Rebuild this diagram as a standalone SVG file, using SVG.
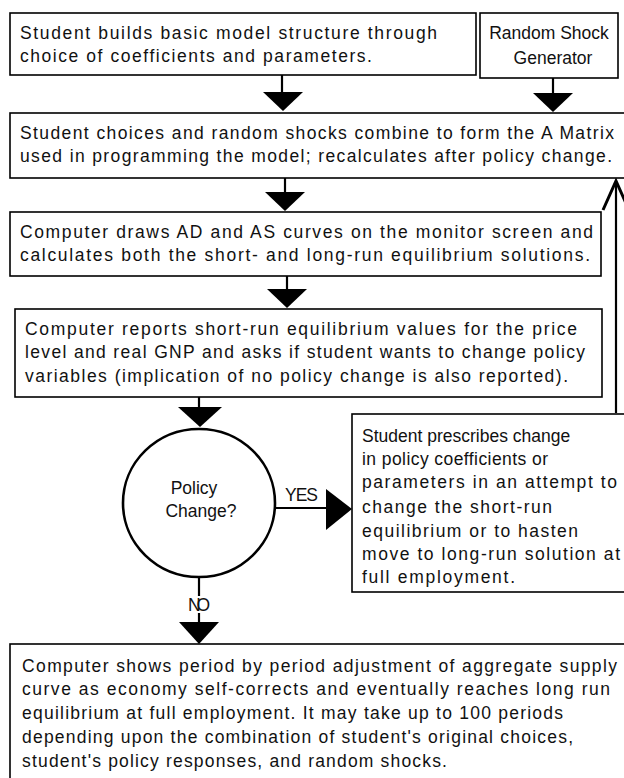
<svg xmlns="http://www.w3.org/2000/svg" width="624" height="778" viewBox="0 0 624 778">
<style>
.box{fill:#fff;stroke:#000;stroke-width:1.6}
.t{font-family:"Liberation Sans",Arial,sans-serif;font-size:17.5px;fill:#111}
.ln{stroke:#000;stroke-width:2.2;fill:none}
.hd{fill:#000}
</style>
<rect width="624" height="778" fill="#fff"/>
<g id="connectors">
<line class="ln" x1="282" y1="75" x2="282" y2="94"/><polygon class="hd" points="263,92 303,92 283,111"/>
<line class="ln" x1="553" y1="78" x2="553" y2="94"/><polygon class="hd" points="533,93 573,93 553,112"/>
<line class="ln" x1="285" y1="178" x2="285" y2="194"/><polygon class="hd" points="265,192 305,192 285,211"/>
<line class="ln" x1="287" y1="276" x2="287" y2="291"/><polygon class="hd" points="267,289 307,289 287,308"/>
<line class="ln" x1="199" y1="397" x2="199" y2="410"/><polygon class="hd" points="178,407 222,407 200,427"/>
<line class="ln" x1="275" y1="508" x2="328" y2="508"/><polygon class="hd" points="326,489 326,530 352,509"/>
<line class="ln" x1="199" y1="577" x2="199" y2="596"/>
<line class="ln" x1="199" y1="613" x2="199" y2="625"/><polygon class="hd" points="179,622 219,622 199,644"/>
<polyline class="ln" points="616,413 616,182"/>
<polyline class="ln" style="stroke-width:3" points="603,210 616,181 629,210"/>
</g>
<g id="n1"><rect class="box" x="10" y="13" width="466" height="62"/>
<text class="t" x="20" y="39" textLength="417">Student builds basic model structure through</text>
<text class="t" x="20" y="62" textLength="352">choice of coefficients and parameters.</text></g>
<g id="n2"><rect class="box" x="480" y="13" width="138" height="65"/>
<text class="t" x="549" y="39" text-anchor="middle" font-size="16">Random Shock</text>
<text class="t" x="553" y="64" text-anchor="middle" font-size="16">Generator</text></g>
<g id="n3"><rect class="box" x="10" y="113" width="620" height="65"/>
<text class="t" x="20" y="139" textLength="594">Student choices and random shocks combine to form the A Matrix</text>
<text class="t" x="20" y="162" textLength="592">used in programming the model; recalculates after policy change.</text></g>
<g id="n4"><rect class="box" x="10" y="212" width="591" height="64"/>
<text class="t" x="20" y="238" textLength="573">Computer draws AD and AS curves on the monitor screen and</text>
<text class="t" x="20" y="261" textLength="570">calculates both the short- and long-run equilibrium solutions.</text></g>
<g id="n5"><rect class="box" x="15" y="309" width="587" height="88"/>
<text class="t" x="25" y="335" textLength="552">Computer reports short-run equilibrium values for the price</text>
<text class="t" x="25" y="358" textLength="560">level and real GNP and asks if student wants to change policy</text>
<text class="t" x="25" y="382" textLength="543">variables (implication of no policy change is also reported).</text></g>
<g id="n6"><ellipse cx="199" cy="503" rx="76" ry="74" fill="#fff" stroke="#000" stroke-width="2.6"/>
<text class="t" x="194" y="494" text-anchor="middle" font-size="16">Policy</text>
<text class="t" x="201" y="517" text-anchor="middle" font-size="16">Change?</text></g>
<text class="t" x="285" y="501" textLength="33" font-size="15">YES</text>
<text class="t" x="188" y="611" textLength="22" font-size="13">NO</text>
<g id="n7"><rect class="box" x="352" y="414" width="280" height="178"/>
<text class="t" x="362" y="442">Student prescribes change</text>
<text class="t" x="362" y="465" textLength="186">in policy coefficients or</text>
<text class="t" x="362" y="488" textLength="255">parameters in an attempt to</text>
<text class="t" x="362" y="513" textLength="190">change the short-run</text>
<text class="t" x="362" y="537" textLength="216">equilibrium or to hasten</text>
<text class="t" x="362" y="560" textLength="258">move to long-run solution at</text>
<text class="t" x="362" y="583" textLength="153">full employment.</text></g>
<g id="n8"><rect class="box" x="10" y="644" width="622" height="140"/>
<text class="t" x="22" y="672" textLength="595">Computer shows period by period adjustment of aggregate supply</text>
<text class="t" x="22" y="695" textLength="588">curve as economy self-corrects and eventually reaches long run</text>
<text class="t" x="22" y="719" textLength="541">equilibrium at full employment. It may take up to 100 periods</text>
<text class="t" x="22" y="743" textLength="551">depending upon the combination of student's original choices,</text>
<text class="t" x="22" y="767" textLength="425">student's policy responses, and random shocks.</text></g>
</svg>
